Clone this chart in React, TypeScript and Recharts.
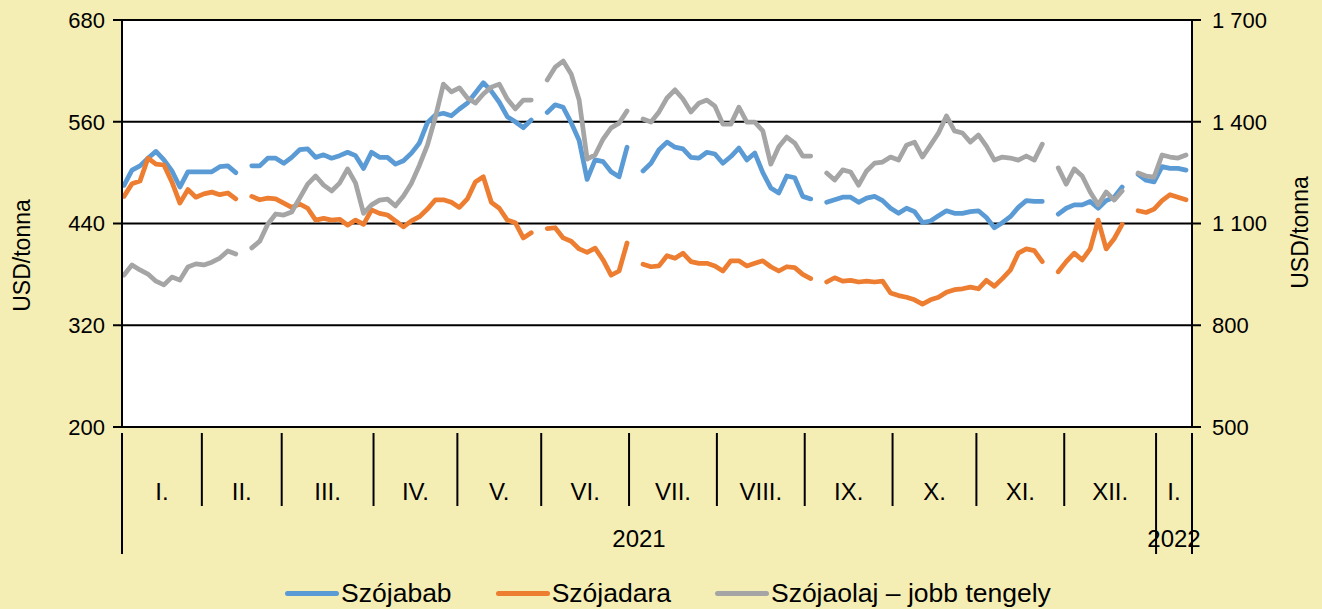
import React from 'react';
import { LineChart, Line, XAxis, YAxis, CartesianGrid, Legend } from 'recharts';

// ---- categories: months of the period, with their number of trading days ----
const monthLabels = ['I.', 'II.', 'III.', 'IV.', 'V.', 'VI.', 'VII.', 'VIII.', 'IX.', 'X.', 'XI.', 'XII.', 'I.'];
const monthTradingDays = [20, 20, 23, 21, 21, 22, 22, 22, 22, 21, 22, 23, 9];
const yearLabels = ['2021', '2022'];
const yearMonthCounts = [12, 1];

// observations every second trading day (day index of the period)
const sampleDays = Array.from({ length: 134 }, (_, k) => 2 * k);

// ---- series values ----
// Szójabab, USD/tonna (left axis)
const soybean: (number | null)[] = [
  485, 503, 508, 517, 525, 515, 502, 483, 501, 501,
  501, 501, 507, 508, 500, null, 508, 508, 517, 517,
  511, 518, 527, 528, 518, 521, 517, 520, 524, 520,
  505, 524, 518, 518, 510, 514, 523, 535, 559, 568,
  570, 567, 575, 582, 594, 606, 596, 583, 566, 560,
  553, 562, null, 571, 580, 577, 559, 538, 492, 515,
  513, 501, 495, 530, null, 502, 511, 527, 536, 530,
  528, 518, 517, 524, 522, 511, 519, 529, 515, 523,
  500, 482, 476, 496, 494, 472, 469, null, 465, 468,
  471, 471, 465, 470, 472, 467, 458, 452, 458, 454,
  441, 443, 449, 455, 452, 452, 454, 455, 447, 435,
  441, 448, 459, 467, 466, 466, null, 451, 458, 462,
  462, 466, 458, 467, 471, 483, null, 498, 491, 489,
  507, 505, 505, 503,
];
// Szójadara, USD/tonna (left axis)
const soymeal: (number | null)[] = [
  472, 487, 490, 517, 510, 509, 489, 464, 480, 471,
  475, 477, 474, 476, 469, null, 472, 468, 470, 469,
  464, 459, 463, 458, 444, 446, 444, 445, 438, 444,
  439, 456, 452, 450, 443, 436, 443, 448, 457, 468,
  468, 465, 459, 469, 489, 495, 465, 458, 444, 441,
  423, 429, null, 434, 435, 423, 419, 410, 406, 411,
  397, 379, 384, 417, null, 392, 389, 390, 402, 399,
  405, 395, 393, 393, 390, 384, 396, 396, 390, 393,
  396, 389, 384, 389, 388, 380, 375, null, 371, 376,
  372, 373, 371, 372, 371, 372, 358, 355, 353, 350,
  345, 350, 353, 359, 362, 363, 365, 363, 373, 366,
  375, 385, 405, 410, 408, 395, null, 383, 395, 405,
  397, 410, 444, 410, 422, 439, null, 455, 453, 457,
  467, 474, 471, 468,
];
// Szójaolaj, USD/tonna (right axis)
const soyoil: (number | null)[] = [
  948, 978, 963, 951, 930, 919, 942, 933, 972, 981,
  978, 986, 998, 1019, 1010, null, 1028, 1048, 1098, 1128,
  1125, 1134, 1175, 1216, 1240, 1213, 1196, 1219, 1261, 1219,
  1130, 1155, 1169, 1172, 1152, 1181, 1219, 1272, 1331, 1414,
  1511, 1488, 1500, 1470, 1455, 1482, 1502, 1511, 1467, 1438,
  1464, 1464, null, 1523, 1561, 1579, 1541, 1464, 1290, 1302,
  1349, 1382, 1396, 1432, null, 1408, 1399, 1429, 1470, 1494,
  1467, 1429, 1455, 1464, 1446, 1393, 1393, 1443, 1399, 1399,
  1373, 1275, 1326, 1355, 1337, 1299, 1299, null, 1249, 1228,
  1258, 1252, 1213, 1255, 1278, 1281, 1296, 1287, 1331, 1340,
  1296, 1331, 1367, 1417, 1373, 1367, 1340, 1361, 1328, 1287,
  1296, 1293, 1287, 1299, 1287, 1334, null, 1264, 1216, 1261,
  1240, 1193, 1155, 1193, 1169, 1196, null, 1249, 1240, 1237,
  1302, 1296, 1293, 1302,
];

// ---- tick labels ----
const leftTicks = [200, 320, 440, 560, 680];
const rightTicks = [500, 800, 1100, 1400, 1700];
const legendItems = [
  { key: 'soybean', label: 'Szójabab', color: '#5B9BD5' },
  { key: 'soymeal', label: 'Szójadara', color: '#ED7D31' },
  { key: 'soyoil', label: 'Szójaolaj – jobb tengely', color: '#A5A5A5' },
];

const FONT = '"Liberation Sans", Arial, Helvetica, sans-serif';

const rows = sampleDays.map((day, i) => ({
  day,
  soybean: soybean[i],
  soymeal: soymeal[i],
  soyoil: soyoil[i],
}));

// month / year boundaries in trading-day units
type TickInfo = { sep?: 'month' | 'year'; month?: string; year?: string };
const tickInfo = new Map<number, TickInfo>();
const setInfo = (v: number, patch: TickInfo) => {
  tickInfo.set(v, { ...(tickInfo.get(v) || {}), ...patch });
};
const monthEdges: number[] = [-0.5];
monthTradingDays.forEach((n, i) => monthEdges.push(monthEdges[i] + n));
monthEdges.forEach((e) => setInfo(e, { sep: 'month' }));
monthLabels.forEach((m, i) => setInfo((monthEdges[i] + monthEdges[i + 1]) / 2, { month: m }));
let mIdx = 0;
yearLabels.forEach((y, i) => {
  const start = monthEdges[mIdx];
  const end = monthEdges[mIdx + yearMonthCounts[i]];
  setInfo(start, { sep: 'year' });
  setInfo(end, { sep: 'year' });
  setInfo((start + end) / 2, { year: y });
  mIdx += yearMonthCounts[i];
});
const xTicks = Array.from(tickInfo.keys()).sort((a, b) => a - b);
const xDomain: [number, number] = [monthEdges[0], monthEdges[monthEdges.length - 1]];

const XTick = (props: any) => {
  const { x, y, payload } = props;
  const info = tickInfo.get(payload.value) || {};
  return (
    <g>
      {info.sep && (
        <line x1={x} x2={x} y1={y} y2={y + (info.sep === 'year' ? 121 : 73)} stroke="#000" strokeWidth={2} />
      )}
      {info.month && (
        <text x={x} y={y + 67} textAnchor="middle" fontSize={24} fontFamily={FONT} fill="#000">
          {info.month}
        </text>
      )}
      {info.year && (
        <text x={x} y={y + 114} textAnchor="middle" fontSize={24} fontFamily={FONT} fill="#000">
          {info.year}
        </text>
      )}
    </g>
  );
};

const AxisTitle = (props: any) => {
  const { viewBox, dx, dy, text } = props;
  const cx = viewBox.x + dx;
  const cy = viewBox.y + viewBox.height / 2 + dy;
  return (
    <text
      x={cx}
      y={cy}
      transform={`rotate(-90 ${cx} ${cy})`}
      textAnchor="middle"
      dominantBaseline="central"
      fontSize={23}
      fontFamily={FONT}
      fill="#000"
    >
      {text}
    </text>
  );
};

const fmtThousands = (v: number) =>
  v >= 1000 ? `${Math.floor(v / 1000)}\u00a0${String(v % 1000).padStart(3, '0')}` : String(v);

const LegendContent = () => (
  <div
    style={{
      display: 'flex',
      justifyContent: 'center',
      alignItems: 'center',
      paddingLeft: 14,
      fontFamily: FONT,
      fontSize: 26.5,
      color: '#000',
    }}
  >
    {legendItems.map((it, i) => (
      <div key={it.key} style={{ display: 'flex', alignItems: 'center', marginLeft: i === 0 ? 0 : 44 }}>
        <span
          style={{
            display: 'inline-block',
            width: 54,
            height: 5,
            borderRadius: 3,
            background: it.color,
            marginRight: 2,
          }}
        />
        <span>{it.label}</span>
      </div>
    ))}
  </div>
);

export default function App() {
  return (
    <div
      style={{
        position: 'absolute',
        left: 0,
        top: 0,
        width: 1322,
        height: 609,
        background: '#F5EEB4',
        fontFamily: FONT,
      }}
    >
      <LineChart width={1322} height={609} data={rows} margin={{ top: 20, right: 0, bottom: 52, left: 22 }}>
        <CartesianGrid
          yAxisId="left"
          vertical={false}
          stroke="#000"
          strokeWidth={2}
          fill="#FFFFFF"
          fillOpacity={1}
        />
        <XAxis
          dataKey="day"
          type="number"
          domain={xDomain}
          ticks={xTicks}
          interval={0}
          tick={<XTick />}
          tickLine={false}
          tickMargin={0}
          axisLine={{ stroke: '#000', strokeWidth: 2 }}
          height={130}
          allowDataOverflow
        />
        <YAxis
          yAxisId="left"
          orientation="left"
          domain={[200, 680]}
          ticks={leftTicks}
          interval={0}
          width={100}
          tick={{ fill: '#000', fontSize: 22, fontFamily: FONT }}
          tickSize={9}
          tickMargin={8}
          tickLine={{ stroke: '#000', strokeWidth: 2 }}
          axisLine={{ stroke: '#000', strokeWidth: 2 }}
          label={<AxisTitle text="USD/tonna" dx={0} dy={32} />}
        />
        <YAxis
          yAxisId="right"
          orientation="right"
          domain={[500, 1700]}
          ticks={rightTicks}
          interval={0}
          width={130}
          tickFormatter={fmtThousands}
          tick={{ fill: '#000', fontSize: 22, fontFamily: FONT, textAnchor: 'start' }}
          tickSize={9}
          tickMargin={11}
          tickLine={{ stroke: '#000', strokeWidth: 2 }}
          axisLine={{ stroke: '#000', strokeWidth: 2 }}
          label={<AxisTitle text="USD/tonna" dx={108} dy={9} />}
        />
        <Line
          yAxisId="left"
          type="linear"
          dataKey="soybean"
          stroke="#5B9BD5"
          strokeWidth={4.75}
          strokeLinejoin="round"
          strokeLinecap="round"
          dot={false}
          activeDot={false}
          isAnimationActive={false}
        />
        <Line
          yAxisId="left"
          type="linear"
          dataKey="soymeal"
          stroke="#ED7D31"
          strokeWidth={4.75}
          strokeLinejoin="round"
          strokeLinecap="round"
          dot={false}
          activeDot={false}
          isAnimationActive={false}
        />
        <Line
          yAxisId="right"
          type="linear"
          dataKey="soyoil"
          stroke="#A5A5A5"
          strokeWidth={4.75}
          strokeLinejoin="round"
          strokeLinecap="round"
          dot={false}
          activeDot={false}
          isAnimationActive={false}
        />
        <Legend
          layout="horizontal"
          verticalAlign="middle"
          align="center"
          content={<LegendContent />}
          wrapperStyle={{ top: 578, left: 0, width: 1322, height: 32 }}
        />
      </LineChart>
    </div>
  );
}
